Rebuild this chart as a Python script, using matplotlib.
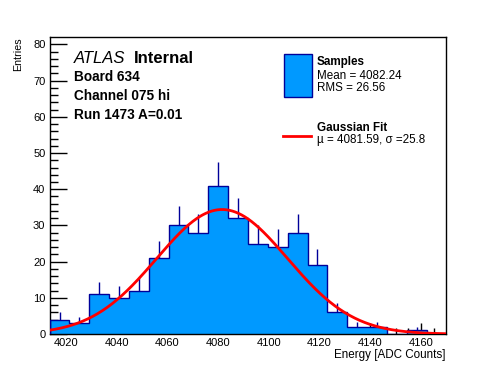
import numpy as np
import matplotlib
matplotlib.use("Agg")
import matplotlib.pyplot as plt
from matplotlib.patches import Rectangle
from matplotlib.lines import Line2D

plt.rcParams['font.family'] = ['Liberation Sans', 'DejaVu Sans']

# =========================
# Data
# =========================
x_lo, x_hi = 4013.6, 4170.0
counts = [4, 3, 11, 10, 12, 21, 30, 28, 41, 32,
          25, 24, 28, 19, 6, 2, 2, 0, 1, 0]
fit_mu = 4081.59
fit_sigma = 25.8
fit_amp = 34.4
sample_mean = 4082.24
sample_rms = 26.56

edges = np.linspace(x_lo, x_hi, len(counts) + 1)
centers = 0.5 * (edges[:-1] + edges[1:])
counts = np.array(counts, dtype=float)

FILL = "#0099ff"
EDGE = "#000099"

fig = plt.figure(figsize=(4.96, 3.72), dpi=100)
ax = fig.add_axes([0.1, 0.102, 0.8, 0.798])

# error bars first so the fill hides the lower half
nz = counts > 0
ax.vlines(centers[nz], counts[nz] - np.sqrt(counts[nz]),
          counts[nz] + np.sqrt(counts[nz]), color=EDGE, lw=1.0, zorder=1)
ax.stairs(counts, edges, fill=True, color=FILL, lw=0, zorder=2)
ax.stairs(counts, edges, fill=False, color=EDGE, lw=1.0, zorder=3)

# gaussian fit
xf = np.linspace(x_lo, x_hi, 400)
yf = fit_amp * np.exp(-0.5 * ((xf - fit_mu) / fit_sigma) ** 2)
ax.plot(xf, yf, color="red", lw=2.0, zorder=4)

ax.set_xlim(x_lo, x_hi)
ax.set_ylim(0, 82)
ax.set_xticks(np.arange(4020, 4170, 20))
ax.set_xticks(np.arange(4015, 4170, 5), minor=True)
ax.set_yticks(np.arange(0, 81, 10))
ax.set_yticks(np.arange(0, 82, 2), minor=True)
ax.tick_params(axis="both", which="both", direction="in", labelsize=8,
               width=1.0)
ax.tick_params(axis="y", which="major", length=12, pad=3)
ax.tick_params(axis="y", which="minor", length=6)
ax.tick_params(axis="x", which="major", length=8, pad=3)
ax.tick_params(axis="x", which="minor", length=4)
for s in ax.spines.values():
    s.set_linewidth(1.0)

fig.text(18 / 496, 1 - 37 / 372, "Entries", rotation=90, ha="center",
         va="top", fontsize=7.7)
fig.text(446 / 496, 1 - 358 / 372, "Energy [ADC Counts]", ha="right",
         va="baseline", fontsize=8.4)

# ATLAS labels
fig.text(74 / 496, 1 - 63 / 372, "ATLAS", style="italic", fontsize=12,
         va="baseline")
fig.text(134 / 496, 1 - 63 / 372, "Internal", weight="bold", fontsize=12,
         va="baseline")
for yy, txt in zip([81, 100, 119],
                   ["Board 634", "Channel 075 hi", "Run 1473 A=0.01"]):
    fig.text(74 / 496, 1 - yy / 372, txt, weight="bold", fontsize=9.8,
             va="baseline")

# legend
fig.add_artist(Rectangle((283.5 / 496, 1 - 96.5 / 372), 28 / 496, 43 / 372,
                         transform=fig.transFigure, facecolor=FILL,
                         edgecolor=EDGE, lw=1.0))
fig.add_artist(Line2D([283 / 496, 311 / 496], [1 - 136 / 372, 1 - 136 / 372],
                      transform=fig.transFigure, color="red", lw=2.0))
fig.text(317 / 496, 1 - 65 / 372, "Samples", weight="bold", fontsize=8.4,
         va="baseline")
fig.text(317 / 496, 1 - 79 / 372, f"Mean = {sample_mean:.2f}", fontsize=8.4,
         va="baseline")
fig.text(317 / 496, 1 - 91 / 372, f"RMS = {sample_rms:.2f}", fontsize=8.4,
         va="baseline")
fig.text(317 / 496, 1 - 131 / 372, "Gaussian Fit", weight="bold",
         fontsize=8.4, va="baseline")
fig.text(317 / 496, 1 - 143 / 372,
         f"\u00b5 = {fit_mu:.2f}, \u03c3 ={fit_sigma:.1f}", fontsize=8.4,
         va="baseline")

fig.savefig("out.png", dpi=100)
